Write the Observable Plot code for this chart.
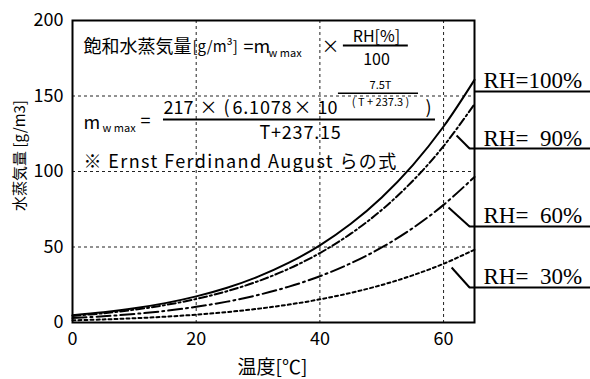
<!DOCTYPE html>
<html><head><meta charset="utf-8">
<script src="https://cdn.jsdelivr.net/npm/d3@7"></script>
<script src="https://cdn.jsdelivr.net/npm/@observablehq/plot@0.6"></script>
<style>body{margin:0;background:#fff}</style>
</head><body><div id="chart"></div>
<script>
// temperature (°C)
const temps = [0,5,10,15,20,25,30,35,40,45,50,55,60,65];
// water vapour amount (g/m3)
const rh100 = [4.85,6.81,9.41,12.84,17.31,23.05,30.37,39.59,51.10,65.36,82.84,104.1,129.8,160.7];
const rh90  = [4.37,6.13,8.47,11.56,15.58,20.75,27.33,35.63,45.99,58.82,74.56,93.71,116.8,144.6];
const rh60  = [2.91,4.09,5.65,7.70,10.39,13.83,18.22,23.75,30.66,39.22,49.70,62.47,77.9,96.4];
const rh30  = [1.46,2.04,2.82,3.85,5.19,6.92,9.11,11.88,15.33,19.61,24.85,31.24,38.9,48.2];
const seriesLabels = ["RH=100%","RH=\u200790%","RH=\u200760%","RH=\u200730%"];
const xTicks = [0,20,40,60];
const yTicks = [0,50,100,150,200];
// label leader anchors (temperature, value) and label line level
const leaderFromT = [65, 62.1, 60.8, 61.3];
const leaderFromV = [153, 123.8, 76.2, 36.4];
const labelLevel  = [153, 115.2, 63.6, 23.2];

const seriesValues = [rh100, rh90, rh60, rh30];
const dashes = [null, "8,3,2,3", "14,4,2,4", "3,3"];
const lineMarks = seriesValues.map((vals, i) =>
  Plot.line(temps.map((t, j) => ({t, v: vals[j]})), {
    x: "t", y: "v", stroke: "black", strokeWidth: 2, curve: "catmull-rom",
    strokeDasharray: dashes[i]
  }));
const labels = seriesLabels.map((label, i) => ({
  label, t0: leaderFromT[i], v0: leaderFromV[i], t1: i === 0 ? 65 : 64.2, v1: labelLevel[i]
}));

const txt = (s, o) => Plot.text([s], {frameAnchor: "top-left", lineAnchor: "middle", textAnchor: "start", fill: "black", fontSize: 18, ...o});

const plot = Plot.plot({
  width: 590, height: 379,
  marginLeft: 72, marginRight: 116, marginTop: 20, marginBottom: 57,
  style: {fontFamily: "'Noto Sans CJK JP', sans-serif", fontSize: "17px", color: "black", background: "white", overflow: "visible"},
  x: {domain: [0, 65]},
  y: {domain: [0, 200]},
  marks: [
    Plot.gridX([20, 40, 60], {stroke: "#222", strokeOpacity: 1, strokeDasharray: "3,3"}),
    Plot.gridY([50, 100, 150], {stroke: "#222", strokeOpacity: 1, strokeDasharray: "3,3"}),
    Plot.axisX(xTicks, {tickSize: 0, tickPadding: 10, fontSize: 18, label: null}),
    Plot.axisY(yTicks, {tickSize: 0, tickPadding: 9, fontSize: 18, label: null}),
    ...lineMarks,
    Plot.frame({stroke: "black", strokeWidth: 2}),
    Plot.link(labels, {x1: "t0", y1: "v0", x2: "t1", y2: "v1", stroke: "black", strokeWidth: 2}),
    Plot.ruleY(labels, {y: "v1", x1: "t1", x2: 84, stroke: "black", strokeWidth: 2}),
    Plot.text(labels, {x: 66.45, y: "v1", text: "label", textAnchor: "start", lineAnchor: "bottom", dy: -3,
      fontFamily: "'Liberation Serif', serif", fontSize: 23, fill: "black"}),
    // formula annotation
    txt("飽和水蒸気量", {dx: 11, dy: 27}),
    txt("[g/m³]", {dx: 120, dy: 27, fontSize: 15}),
    txt("=m", {dx: 171, dy: 27}),
    txt("w max", {dx: 196, dy: 33, fontSize: 11}),
    txt("×", {dx: 258, dy: 27, textAnchor: "middle"}),
    txt("RH[%]", {dx: 304, dy: 16, textAnchor: "middle", fontSize: 16}),
    txt("100", {dx: 304, dy: 39, textAnchor: "middle", fontSize: 16}),
    Plot.ruleY([183.4], {x1: 43.8, x2: 54.3, stroke: "black", strokeWidth: 2}),
    txt("m", {dx: 11, dy: 103}),
    txt("w max", {dx: 30, dy: 108, fontSize: 11}),
    txt("=", {dx: 68, dy: 101}),
    txt("217", {dx: 91, dy: 88}),
    txt("×", {dx: 136, dy: 88, textAnchor: "middle"}),
    txt("(", {dx: 154, dy: 88, textAnchor: "middle"}),
    txt("6.1078", {dx: 160, dy: 88}),
    txt("×", {dx: 230, dy: 88, textAnchor: "middle"}),
    txt("10", {dx: 245, dy: 88}),
    txt("7.5T", {dx: 308, dy: 65, textAnchor: "middle", fontSize: 11}),
    txt("( T + 237.3 )", {dx: 308, dy: 82, textAnchor: "middle", fontSize: 11}),
    txt(")", {dx: 356, dy: 88, textAnchor: "middle"}),
    txt("T+237.15", {dx: 228, dy: 113, textAnchor: "middle"}),
    Plot.ruleY([134.4], {x1: 14.71, x2: 58.69, stroke: "black", strokeWidth: 2}),
    Plot.ruleY([151.9], {x1: 43.0, x2: 55.95, stroke: "black", strokeWidth: 1.5}),
    txt("※ Ernst Ferdinand August らの式", {dx: 11, dy: 142}),
    // axis titles
    Plot.text(["水蒸気量 [g/m3]"], {frameAnchor: "left", textAnchor: "middle", lineAnchor: "middle", dx: -52, dy: -16, rotate: -90, fontSize: 15, fill: "black"}),
    Plot.text(["温度[℃]"], {frameAnchor: "bottom", textAnchor: "middle", lineAnchor: "middle", dx: -1, dy: 45, fontSize: 19, fill: "black"})
  ]
});
// wider letter spacing to match the reference typeface
d3.select(plot).selectAll("text").filter(function() { return this.textContent.startsWith("※"); })
  .attr("letter-spacing", "1.4px");
d3.select(plot).selectAll("text").filter(function() { return this.textContent === "6.1078" || this.textContent === "T+237.15"; })
  .attr("letter-spacing", "0.8px");
document.getElementById("chart").append(plot);
</script>
</body></html>
